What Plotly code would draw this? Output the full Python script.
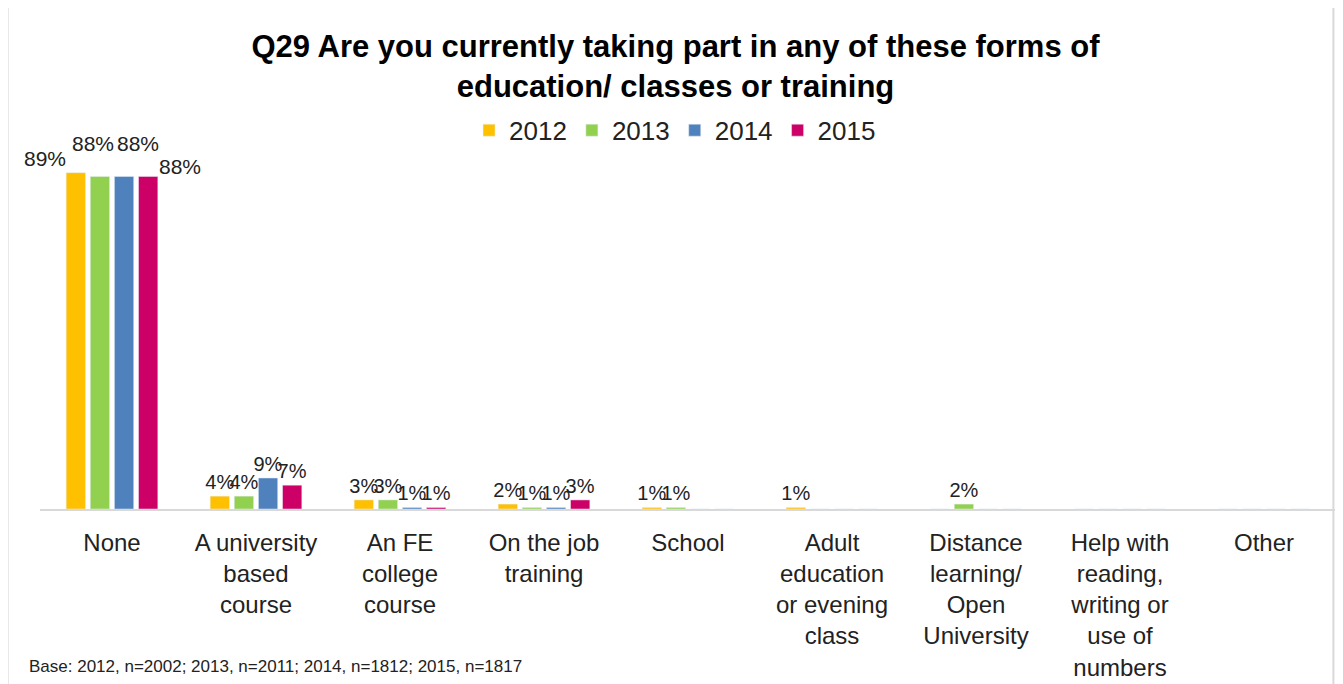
import plotly.graph_objects as go

categories = ["None", "A university<br>based<br>course", "An FE<br>college<br>course",
              "On the job<br>training", "School", "Adult<br>education<br>or evening<br>class",
              "Distance<br>learning/<br>Open<br>University", "Help with<br>reading,<br>writing or<br>use of<br>numbers",
              "Other"]
years = ["2012", "2013", "2014", "2015"]
colors = ["#FFC000", "#92D050", "#4F81BD", "#CC0066"]

# bar heights as drawn (%), labels as printed
v2012 = [89, 3.4, 2.4, 1.3, 0.4, 0.4, 0, 0, 0]
v2013 = [88, 3.4, 2.4, 0.4, 0.4, 0, 1.3, 0, 0]
v2014 = [88, 8.2, 0.4, 0.4, 0, 0, 0, 0, 0]
v2015 = [88, 6.3, 0.4, 2.4, 0, 0, 0, 0, 0]
l2012 = ["89%", "4%", "3%", "2%", "1%", "1%", "", "", ""]
l2013 = ["88%", "4%", "3%", "1%", "1%", "", "2%", "", ""]
l2014 = ["88%", "9%", "1%", "1%", "", "", "", "", ""]
l2015 = ["88%", "7%", "1%", "3%", "", "", "", "", ""]

values = [v2012, v2013, v2014, v2015]
labels = [l2012, l2013, l2014, l2015]

# the "None" labels are staggered by hand in the original, mimic that
none_shift = [(-67, 1), (-19, 19), (26, 19), (68, -4)]

fig = go.Figure()
for yr, col, v, lab in zip(years, colors, values, labels):
    fig.add_trace(go.Bar(x=categories, y=v, name=yr, marker_color=col,
                         text=[""] + lab[1:], textposition="outside", cliponaxis=False,
                         constraintext="none", textangle=0,
                         textfont=dict(size=20, color="#222222")))

annots = []
for v, lab, (dx, dy) in zip(values, labels, none_shift):
    annots.append(dict(x=categories[0], y=v[0], text=lab[0], showarrow=False,
                       xanchor="center", yanchor="bottom", xshift=dx, yshift=dy,
                       font=dict(size=21, color="#222222")))
annots.append(dict(text="Base: 2012, n=2002; 2013, n=2011; 2014, n=1812; 2015, n=1817",
                   xref="paper", yref="paper", x=-0.01, y=-0.44, xanchor="left", yanchor="middle",
                   showarrow=False, font=dict(size=17, color="#222222")))

# page body has an 8px margin, so the figure is 8px smaller than the window
fig.update_layout(
    width=1335, height=676,
    font=dict(family="Liberation Sans, Arial, sans-serif", color="#222222"),
    paper_bgcolor="white", plot_bgcolor="white",
    margin=dict(l=32, r=7, t=142, b=175, autoexpand=False),
    barmode="group", bargap=0.33, bargroupgap=0.2,
    title=dict(text="<b>Q29 Are you currently taking part in any of these forms of<br>education/ classes or training</b>",
               x=0.5, xanchor="center", y=0.928, yanchor="top",
               font=dict(size=31, color="black")),
    legend=dict(orientation="h", x=0.49, xanchor="center", y=1.055, yanchor="middle",
                font=dict(size=26, color="#222222"), itemwidth=30, traceorder="normal"),
    xaxis=dict(showline=True, linecolor="#d9d9d9", linewidth=2, tickfont=dict(size=24),
               showgrid=False, ticks="", automargin=False, ticklabelstandoff=11,
               range=[-0.5, len(categories) - 0.5]),
    yaxis=dict(range=[0, 95], visible=False, showgrid=False, automargin=False),
    shapes=[dict(type="rect", xref="paper", yref="paper", x0=-0.025, x1=0.998, y0=-0.5, y1=1.398,
                 line=dict(color="#d9d9d9", width=2))],
    annotations=annots,
)

fig.write_html("out.html")
